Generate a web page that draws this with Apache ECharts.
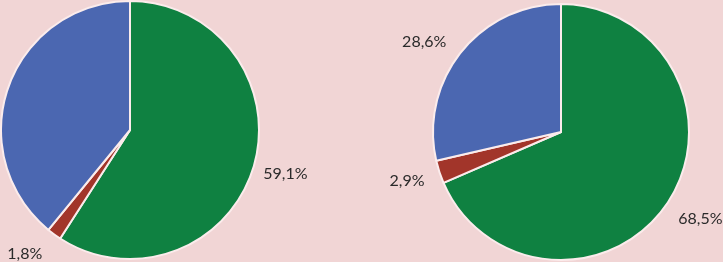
<!DOCTYPE html>
<html>
<head>
<meta charset="utf-8">
<script src="https://cdn.jsdelivr.net/npm/echarts@6/dist/echarts.min.js"></script>
<style>
html,body{margin:0;padding:0;background:#f1d5d5;}
#c{width:723px;height:262px;}
</style>
</head>
<body>
<div id="c"></div>
<script>
var categories = ['Зелёный', 'Красный', 'Синий'];
var leftValues = [59.1, 1.8, 39.1];
var rightValues = [68.5, 2.9, 28.6];
var colors = ['#0f8141', '#a2352a', '#4b67b1'];

var centers = [[130, 130], [561, 132]];
var radii = [129, 128];
var allValues = [leftValues, rightValues];
var labelDist = 162;
// small manual nudges of label positions (px), per pie / slice
var labelNudges = [
  [[0, -2], [-10, -7], [0, 0]],
  [[4, -2], [0, -2], [-10, 11]]
];

function fmt(p) { return p.value.toFixed(1).replace('.', ',') + '%'; }

function makeData(vals) {
  return categories.map(function (c, i) {
    return { name: c, value: vals[i], itemStyle: { color: colors[i] } };
  });
}

function layoutFor(si) {
  return function (params) {
    var vals = allValues[si];
    var total = vals.reduce(function (a, b) { return a + b; }, 0);
    var before = 0;
    for (var k = 0; k < params.dataIndex; k++) before += vals[k];
    var frac = (before + vals[params.dataIndex] / 2) / total;
    var theta = (90 - frac * 360) * Math.PI / 180;
    var c = centers[si];
    var n = labelNudges[si][params.dataIndex];
    return {
      x: c[0] + labelDist * Math.cos(theta) + n[0],
      y: c[1] - labelDist * Math.sin(theta) + n[1],
      align: 'center',
      verticalAlign: 'middle'
    };
  };
}

var chart = echarts.init(document.getElementById('c'), null, { renderer: 'canvas' });
function series(si) {
  return {
    type: 'pie',
    center: centers[si],
    radius: radii[si],
    startAngle: 90,
    clockwise: true,
    animation: false,
    avoidLabelOverlap: false,
    data: makeData(allValues[si]),
    itemStyle: { borderColor: '#fbecec', borderWidth: 2 },
    label: {
      show: true,
      position: 'outside',
      formatter: fmt,
      color: '#2a2a2a',
      fontFamily: 'Lato',
      fontSize: 16,
      overflow: 'none'
    },
    labelLine: { show: false },
    labelLayout: layoutFor(si),
    emphasis: { disabled: true }
  };
}
chart.setOption({
  backgroundColor: '#f1d5d5',
  series: [series(0), series(1)]
});
</script>
</body>
</html>
